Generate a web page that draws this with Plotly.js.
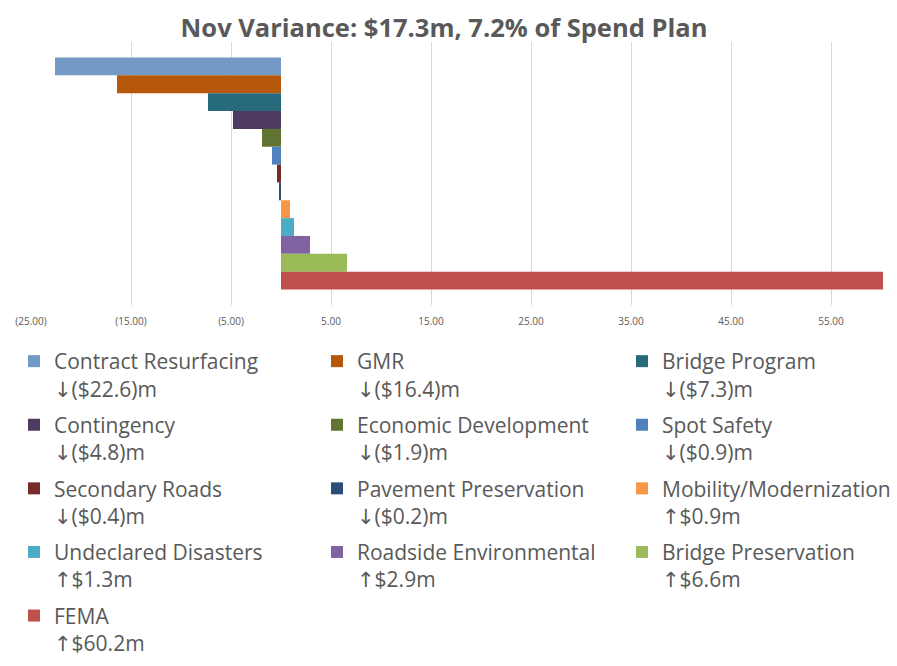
<!DOCTYPE html>
<html>
<head>
<meta charset="utf-8">
<script src="https://cdn.plot.ly/plotly-3.0.1.min.js"></script>
<style>
  html, body { margin: 0; padding: 0; background: #fff; }
  #chart { width: 897px; height: 666px; }
</style>
</head>
<body>
<div id="chart"></div>
<script>
// one bar per program, Nov variance in $m
const programs = [
  "Contract Resurfacing", "GMR", "Bridge Program",
  "Contingency", "Economic Development", "Spot Safety",
  "Secondary Roads", "Pavement Preservation", "Mobility/Modernization",
  "Undeclared Disasters", "Roadside Environmental", "Bridge Preservation",
  "FEMA"
];
const variance = [-22.6, -16.4, -7.3, -4.8, -1.9, -0.9, -0.4, -0.2, 0.9, 1.3, 2.9, 6.6, 60.2];
const colors = [
  "#7399c6", "#b6580a", "#276a7b",
  "#4f3b61", "#627431", "#4f81bd",
  "#772c2a", "#2c4d75", "#f79646",
  "#4bacc6", "#8064a2", "#9bbb59",
  "#c0504d"
];
const category = ["Nov"];
const tickVals = [-25, -15, -5, 5, 15, 25, 35, 45, 55];
const tickText = ["(25.00)", "(15.00)", "(5.00)", "5.00", "15.00", "25.00", "35.00", "45.00", "55.00"];

const textColor = "#595959";

function legendLabel(name, v) {
  const amt = Math.abs(v).toFixed(1);
  return name + "<br>" + (v < 0 ? "\u2193($" + amt + ")m" : "\u2191$" + amt + "m");
}

const legendIds = ["legend", "legend2", "legend3"];

const traces = programs.map((name, i) => ({
  type: "bar",
  orientation: "h",
  x: [variance[i]],
  y: category,
  name: legendLabel(name, variance[i]),
  marker: { color: colors[i] },
  legend: legendIds[i % 3],
  legendgroup: "g" + i,
  hoverinfo: "skip"
}));

// legend columns, pixel positions from the reference
const plotLeft = 31, plotW = 853, plotBottom = 305, plotH = 263;
const colX = [14, 317, 622];
const legendTop = 341;

function legendAt(px) {
  return {
    orientation: "v",
    x: (px - plotLeft) / plotW,
    xanchor: "left",
    y: (plotBottom - legendTop) / plotH,
    yanchor: "top",
    valign: "top",
    bgcolor: "rgba(0,0,0,0)",
    borderwidth: 0,
    tracegroupgap: 6,
    itemclick: false,
    itemdoubleclick: false,
    font: { family: "Open Sans, DejaVu Sans, sans-serif", size: 21, color: textColor }
  };
}

const layout = {
  width: 897,
  height: 666,
  paper_bgcolor: "#fff",
  plot_bgcolor: "#fff",
  margin: { l: plotLeft, r: 897 - plotLeft - plotW, t: 42, b: 666 - plotBottom, autoexpand: false },
  title: {
    text: "<b>Nov Variance: $17.3m, 7.2% of Spend Plan</b>",
    x: 0.495,
    xanchor: "center",
    y: 0.958,
    yanchor: "middle",
    font: { family: "Open Sans, sans-serif", size: 25.5, color: textColor }
  },
  barmode: "group",
  bargap: 0.118,
  bargroupgap: 0,
  showlegend: true,
  legend: legendAt(colX[0]),
  legend2: legendAt(colX[1]),
  legend3: legendAt(colX[2]),
  xaxis: {
    range: [-25, 60.3],
    tickvals: tickVals,
    ticktext: tickText,
    showgrid: true,
    gridcolor: "#d9d9d9",
    gridwidth: 1,
    zeroline: false,
    showline: false,
    ticks: "",
    ticklabelstandoff: 9,
    tickfont: { family: "Open Sans, sans-serif", size: 10, color: textColor },
    fixedrange: true
  },
  yaxis: {
    type: "category",
    autorange: "reversed",
    showticklabels: false,
    showgrid: false,
    zeroline: false,
    ticks: "",
    fixedrange: true
  }
};

Plotly.newPlot("chart", traces, layout, { displayModeBar: false, staticPlot: true });
</script>
</body>
</html>
